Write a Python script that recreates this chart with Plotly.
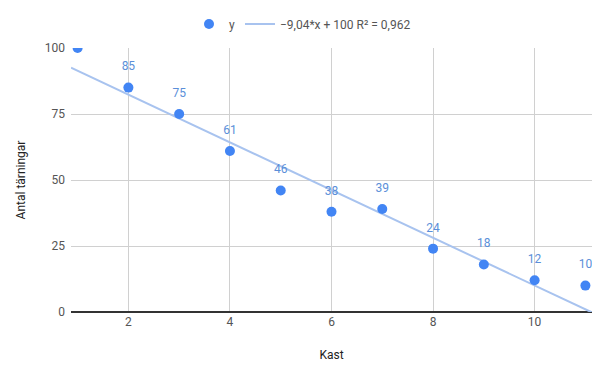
import numpy as np
import plotly.graph_objects as go

kast = [1, 2, 3, 4, 5, 6, 7, 8, 9, 10, 11]
antal = [100, 85, 75, 61, 46, 38, 39, 24, 18, 12, 10]
x_ticks = [2, 4, 6, 8, 10]
y_ticks = [0, 25, 50, 75, 100]
series_name = "y"
trend_name = "\u22129,04*x + 100 R\u00b2 = 0,962"
x_title = "Kast"
y_title = "Antal tärningar"

slope, intercept = np.polyfit(kast, antal, 1)
x_range = [0.87, 11.13]
trend_x = [x_range[0], x_range[1]]
trend_y = [slope * v + intercept for v in trend_x]

blue = "#4285f4"
font = "Roboto, Arial, sans-serif"

fig = go.Figure()
fig.add_trace(go.Scatter(
    x=trend_x, y=trend_y, mode="lines", name=trend_name,
    line=dict(color="#a8c3ef", width=2), hoverinfo="skip", cliponaxis=True,
))
fig.add_trace(go.Scatter(
    x=kast, y=antal, mode="markers", name=series_name,
    marker=dict(color=blue, size=10), cliponaxis=True,
))
# label layer: transparent markers so text sits above the points
fig.add_trace(go.Scatter(
    x=kast, y=antal, mode="markers+text", text=[str(v) for v in antal],
    textposition="top center", showlegend=False, hoverinfo="skip",
    marker=dict(color="rgba(0,0,0,0)", size=21),
    textfont=dict(family=font, size=12, color="#5b8fd9"), cliponaxis=True,
))

# page body has an 8px margin, so the figure is 8px smaller than the window
fig.update_layout(
    width=601, height=371,
    margin=dict(l=63, r=17, t=40, b=67, autoexpand=False),
    paper_bgcolor="white", plot_bgcolor="white",
    font=dict(family=font, size=12, color="#444"),
    legend=dict(orientation="h", x=0.49, xanchor="center", xref="container",
                y=0.957, yanchor="middle", yref="container",
                traceorder="reversed", itemwidth=30,
                font=dict(family=font, size=12, color="#555")),
    showlegend=True,
)
fig.update_xaxes(
    range=x_range, tickvals=x_ticks, ticktext=[str(v) for v in x_ticks],
    showgrid=True, gridcolor="#d0d0d0", gridwidth=1, zeroline=False,
    showline=False, ticks="", ticklabelstandoff=1,
    tickfont=dict(color="#555", size=12), automargin=False,
    title=dict(text=x_title, font=dict(color="#222", size=12), standoff=22),
)
fig.update_yaxes(
    range=[0, 100], tickvals=y_ticks, ticktext=[str(v) for v in y_ticks],
    showgrid=True, gridcolor="#d0d0d0", gridwidth=1,
    zeroline=True, zerolinecolor="#333333", zerolinewidth=1.5,
    showline=False, ticks="", ticklabelstandoff=5, tickfont=dict(color="#555", size=12),
    automargin=False,
    title=dict(text=y_title, font=dict(color="#222", size=12), standoff=16),
)

fig.write_html("out.html")
